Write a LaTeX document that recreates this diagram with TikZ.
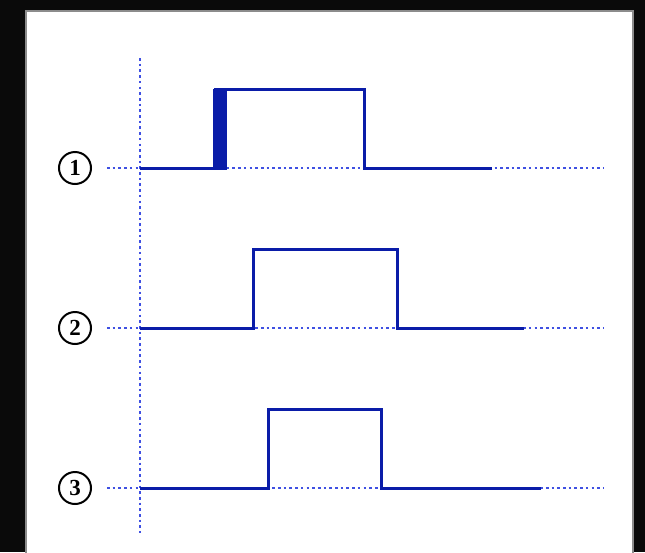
\documentclass[tikz,border=0pt]{standalone}
\usepackage{fontspec}
\setmainfont{Liberation Serif}
\definecolor{sigblue}{HTML}{0A1CA8}
\definecolor{dotblue}{HTML}{3F50E2}
\tikzset{
  refline/.style={dotblue, line width=2.6pt, dash pattern=on 2.6pt off 3.1pt},
  signal/.style={sigblue, line width=3pt, line join=miter},
  tag/.style={circle, draw=black, line width=2pt, minimum size=32pt, inner sep=0pt,
    font=\fontsize{23}{23}\selectfont\bfseries}
}
\begin{document}
\begin{tikzpicture}[x=1pt, y=-1pt]
    \useasboundingbox (0,0) rectangle (645,552);
    % background and panel
    \fill[black!96] (0,0) rectangle (645,552);
    \filldraw[fill=white, draw=black!45, line width=2pt] (26,11) rectangle (633,560);

    % time axis
    \coordinate (T0) at (140,58);
    \coordinate (T1) at (140,533);
    \draw[refline] (T0) -- (T1);

    % reference levels
    \coordinate (L1) at (107,168);
    \coordinate (R1) at (603,168);
    \coordinate (L2) at (107,328);
    \coordinate (R2) at (603,328);
    \coordinate (L3) at (107,488);
    \coordinate (R3) at (603,488);
    \draw[refline] (L1) -- (R1);
    \draw[refline] (L2) -- (R2);
    \draw[refline] (L3) -- (R3);

    \node[tag] (n1) at (75,168) {1};
    \node[tag] (n2) at (75,328) {2};
    \node[tag] (n3) at (75,488) {3};

    % signal 1 (bouncing edge)
    \fill[sigblue] (213,89) rectangle (227,169.5);
    \draw[signal] (140,168) -- (214,168);
    \draw[signal] (214,89) -- (364,89) -- (364,168) -- (492,168);

    % signal 2
    \draw[signal] (140,328) -- (253,328) -- (253,249) -- (397,249) -- (397,328) -- (524,328);

    % signal 3
    \draw[signal] (140,488) -- (268,488) -- (268,409) -- (381,409) -- (381,488) -- (541,488);
\end{tikzpicture}
\end{document}
